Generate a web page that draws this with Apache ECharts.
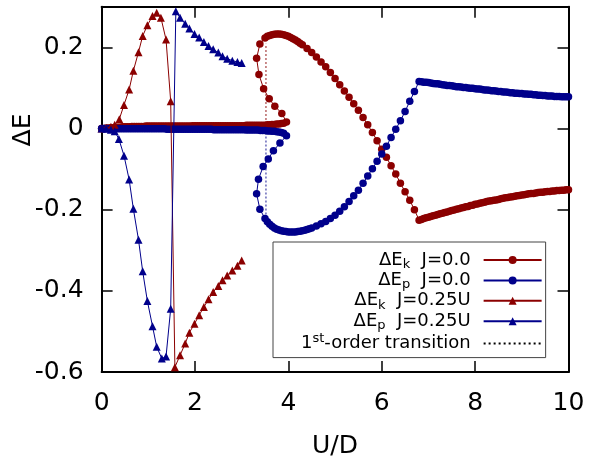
<!DOCTYPE html>
<html><head><meta charset="utf-8">
<script src="https://cdn.jsdelivr.net/npm/echarts@6/dist/echarts.min.js"></script>
<style>html,body{margin:0;padding:0;background:#fff}#c{width:590px;height:458px}</style>
</head><body><div id="c"></div>
<script>
// ---------- data (U/D, ΔE) ----------
// ΔE_k, J=0 : metallic branch, unstable back-turn, insulating branch
const ekJ0 = [
 [0.00,0.000],[0.05,0.000],[0.10,0.001],[0.15,0.001],[0.20,0.002],[0.25,0.002],[0.30,0.003],[0.35,0.003],[0.40,0.003],[0.45,0.004],
 [0.50,0.004],[0.55,0.004],[0.60,0.004],[0.65,0.005],[0.70,0.005],[0.75,0.005],[0.80,0.005],[0.85,0.005],[0.90,0.005],[0.95,0.006],
 [1.00,0.006],[1.05,0.006],[1.10,0.006],[1.15,0.006],[1.20,0.006],[1.25,0.006],[1.30,0.006],[1.35,0.006],[1.40,0.006],[1.45,0.006],
 [1.50,0.006],[1.55,0.006],[1.60,0.006],[1.65,0.006],[1.70,0.006],[1.75,0.006],[1.80,0.006],[1.85,0.006],[1.90,0.006],[1.95,0.007],
 [2.00,0.007],[2.05,0.007],[2.10,0.007],[2.15,0.007],[2.20,0.007],[2.25,0.007],[2.30,0.007],[2.35,0.007],[2.40,0.007],[2.45,0.007],
 [2.50,0.007],[2.55,0.007],[2.60,0.007],[2.65,0.007],[2.70,0.007],[2.75,0.007],[2.80,0.007],[2.85,0.007],[2.90,0.007],[2.95,0.007],
 [3.00,0.007],[3.05,0.007],[3.10,0.008],[3.15,0.008],[3.20,0.008],[3.25,0.008],[3.30,0.008],[3.35,0.008],[3.40,0.008],[3.45,0.008],
 [3.50,0.008],[3.55,0.009],[3.60,0.009],[3.65,0.010],[3.70,0.010],[3.75,0.011],[3.80,0.011],[3.85,0.012],[3.90,0.013],[3.96,0.016],
 [3.86,0.037],[3.71,0.055],[3.59,0.073],[3.47,0.098],[3.37,0.133],[3.32,0.173],[3.39,0.208],
 [3.50,0.223],[3.55,0.227],[3.60,0.229],[3.65,0.231],[3.70,0.232],[3.75,0.233],[3.80,0.233],[3.85,0.232],[3.90,0.231],[3.95,0.229],
 [4.00,0.227],[4.05,0.224],[4.10,0.221],[4.15,0.218],[4.20,0.214],[4.25,0.210],[4.30,0.206],
 [4.4,0.197],[4.5,0.187],[4.6,0.176],[4.7,0.164],[4.8,0.152],[4.9,0.138],[5.0,0.123],[5.1,0.108],[5.2,0.092],[5.3,0.077],
 [5.4,0.061],[5.5,0.045],[5.6,0.027],[5.7,0.009],[5.8,-0.010],[5.9,-0.030],[6.0,-0.051],[6.1,-0.071],[6.2,-0.092],[6.3,-0.112],
 [6.4,-0.135],[6.5,-0.156],[6.6,-0.177],[6.7,-0.200],
 [6.80,-0.226],[6.85,-0.224],[6.90,-0.222],[6.95,-0.220],[7.00,-0.219],[7.05,-0.217],[7.10,-0.215],[7.15,-0.214],[7.20,-0.212],[7.25,-0.210],
 [7.30,-0.209],[7.35,-0.207],[7.40,-0.206],[7.45,-0.204],[7.50,-0.202],[7.55,-0.201],[7.60,-0.199],[7.65,-0.198],[7.70,-0.196],[7.75,-0.195],
 [7.80,-0.193],[7.85,-0.192],[7.90,-0.190],[7.95,-0.189],[8.00,-0.187],[8.05,-0.186],[8.10,-0.184],[8.15,-0.183],[8.20,-0.182],[8.25,-0.180],
 [8.30,-0.179],[8.35,-0.178],[8.40,-0.177],[8.45,-0.176],[8.50,-0.175],[8.55,-0.173],[8.60,-0.172],[8.65,-0.171],[8.70,-0.170],[8.75,-0.169],
 [8.80,-0.168],[8.85,-0.167],[8.90,-0.166],[8.95,-0.165],[9.00,-0.164],[9.05,-0.163],[9.10,-0.162],[9.15,-0.161],[9.20,-0.160],[9.25,-0.160],
 [9.30,-0.159],[9.35,-0.158],[9.40,-0.157],[9.45,-0.157],[9.50,-0.156],[9.55,-0.155],[9.60,-0.155],[9.65,-0.154],[9.70,-0.154],[9.75,-0.153],
 [9.80,-0.153],[9.85,-0.152],[9.90,-0.152],[9.95,-0.151],[10.00,-0.151]
];
// ΔE_p, J=0
const epJ0 = [
 [0.00,0.000],[0.05,0.000],[0.10,0.000],[0.15,-0.001],[0.20,-0.001],[0.25,-0.001],[0.30,-0.001],[0.35,-0.001],[0.40,-0.001],[0.45,-0.001],
 [0.50,-0.001],[0.55,-0.001],[0.60,-0.001],[0.65,-0.001],[0.70,-0.001],[0.75,-0.001],[0.80,-0.001],[0.85,-0.001],[0.90,-0.001],[0.95,-0.001],
 [1.00,-0.001],[1.05,-0.001],[1.10,-0.001],[1.15,-0.001],[1.20,-0.001],[1.25,-0.001],[1.30,-0.001],[1.35,-0.001],[1.40,-0.002],[1.45,-0.002],
 [1.50,-0.002],[1.55,-0.002],[1.60,-0.002],[1.65,-0.002],[1.70,-0.002],[1.75,-0.002],[1.80,-0.002],[1.85,-0.002],[1.90,-0.002],[1.95,-0.002],
 [2.00,-0.002],[2.05,-0.002],[2.10,-0.002],[2.15,-0.002],[2.20,-0.002],[2.25,-0.002],[2.30,-0.002],[2.35,-0.002],[2.40,-0.003],[2.45,-0.003],
 [2.50,-0.003],[2.55,-0.003],[2.60,-0.003],[2.65,-0.003],[2.70,-0.003],[2.75,-0.003],[2.80,-0.003],[2.85,-0.003],[2.90,-0.003],[2.95,-0.003],
 [3.00,-0.003],[3.05,-0.003],[3.10,-0.004],[3.15,-0.004],[3.20,-0.004],[3.25,-0.004],[3.30,-0.004],[3.35,-0.004],[3.40,-0.005],[3.45,-0.005],
 [3.50,-0.005],[3.55,-0.006],[3.60,-0.006],[3.65,-0.007],[3.70,-0.007],[3.75,-0.008],[3.80,-0.009],[3.85,-0.010],[3.90,-0.012],[3.96,-0.018],
 [3.82,-0.036],[3.68,-0.055],[3.57,-0.075],[3.46,-0.094],[3.36,-0.125],[3.32,-0.161],[3.39,-0.199],
 [3.50,-0.222],[3.55,-0.230],[3.60,-0.236],[3.65,-0.241],[3.70,-0.245],[3.75,-0.248],[3.80,-0.250],[3.85,-0.252],[3.90,-0.253],[3.95,-0.254],
 [4.00,-0.255],[4.05,-0.255],[4.10,-0.255],[4.15,-0.255],[4.20,-0.254],[4.25,-0.253],[4.30,-0.252],[4.35,-0.251],[4.40,-0.249],[4.45,-0.247],
 [4.50,-0.245],[4.6,-0.240],[4.7,-0.235],[4.8,-0.229],[4.9,-0.222],[5.0,-0.214],[5.1,-0.204],[5.2,-0.193],[5.3,-0.180],[5.4,-0.166],
 [5.5,-0.152],[5.6,-0.135],[5.7,-0.117],[5.8,-0.099],[5.9,-0.081],[6.0,-0.063],[6.1,-0.044],[6.2,-0.022],[6.3,-0.002],[6.4,0.019],
 [6.5,0.042],[6.6,0.067],[6.7,0.091],
 [6.80,0.116],[6.85,0.115],[6.90,0.114],[6.95,0.114],[7.00,0.113],[7.05,0.112],[7.10,0.111],[7.15,0.110],[7.20,0.110],[7.25,0.109],
 [7.30,0.108],[7.35,0.107],[7.40,0.106],[7.45,0.106],[7.50,0.105],[7.55,0.104],[7.60,0.103],[7.65,0.103],[7.70,0.102],[7.75,0.101],
 [7.80,0.101],[7.85,0.100],[7.90,0.099],[7.95,0.099],[8.00,0.098],[8.05,0.097],[8.10,0.097],[8.15,0.096],[8.20,0.095],[8.25,0.095],
 [8.30,0.094],[8.35,0.093],[8.40,0.093],[8.45,0.092],[8.50,0.091],[8.55,0.091],[8.60,0.090],[8.65,0.090],[8.70,0.089],[8.75,0.088],
 [8.80,0.088],[8.85,0.087],[8.90,0.087],[8.95,0.086],[9.00,0.086],[9.05,0.085],[9.10,0.085],[9.15,0.084],[9.20,0.084],[9.25,0.083],
 [9.30,0.083],[9.35,0.082],[9.40,0.082],[9.45,0.081],[9.50,0.081],[9.55,0.080],[9.60,0.080],[9.65,0.080],[9.70,0.079],[9.75,0.079],
 [9.80,0.079],[9.85,0.078],[9.90,0.078],[9.95,0.078],[10.00,0.078]
];
// ΔE_k, J=0.25U
const ekJ025 = [
 [0.0,0.000],[0.1,0.001],[0.2,0.004],[0.28,0.009],[0.38,0.023],[0.48,0.058],[0.59,0.096],[0.68,0.142],[0.79,0.188],[0.88,0.228],
 [0.98,0.254],[1.09,0.277],[1.18,0.285],[1.27,0.273],[1.38,0.219],[1.48,0.067],
 [1.57,-0.588],[1.68,-0.559],[1.79,-0.530],[1.88,-0.503],[1.99,-0.481],[2.09,-0.460],[2.19,-0.440],[2.29,-0.421],[2.39,-0.403],
 [2.50,-0.388],[2.59,-0.374],[2.69,-0.362],[2.80,-0.350],[2.91,-0.338],[3.00,-0.325]
];
// ΔE_p, J=0.25U
const epJ025 = [
 [0.0,0.000],[0.1,-0.001],[0.2,-0.003],[0.28,-0.007],[0.37,-0.026],[0.48,-0.067],[0.59,-0.126],[0.68,-0.198],[0.79,-0.274],[0.88,-0.352],
 [0.98,-0.425],[1.09,-0.487],[1.18,-0.538],[1.29,-0.567],[1.38,-0.562],[1.48,-0.444],
 [1.59,0.289],[1.68,0.273],[1.79,0.258],[1.88,0.246],[1.99,0.233],[2.09,0.224],[2.19,0.213],[2.29,0.203],[2.39,0.195],
 [2.50,0.187],[2.59,0.178],[2.69,0.172],[2.80,0.167],[2.91,0.164],[3.00,0.161]
];
// first-order transition markers
const transK = [[3.52,0.011],[3.52,0.209]];
const transP = [[3.52,-0.010],[3.52,-0.215]];
const names = ['ΔEk J=0.0','ΔEp J=0.0','ΔEk J=0.25U','ΔEp J=0.25U','1st-order transition'];
const legendText = [
 '{m|ΔE}{s|k}{m|  J=0.0}',
 '{m|ΔE}{s|p}{m|  J=0.0}',
 '{m|ΔE}{s|k}{m|  J=0.25U}',
 '{m|ΔE}{s|p}{m|  J=0.25U}',
 '{m|1}{p|st}{m|-order transition}'
];
const xName = 'U/D';
const yName = 'ΔE';

// ---------- chart ----------
const RED = '#8b0000', BLUE = '#00008b', FONT = 'DejaVu Sans';
function ser(name, data, color, symbol, size, z) {
  return {name, type:'line', data, symbol, symbolSize:size, showSymbol:true, color,
    lineStyle:{color, width:1}, itemStyle:{color}, animation:false, z,
    emphasis:{disabled:true}, silent:true};
}
function dotted(name, data, color) {
  return {name, type:'line', data, symbol:'none', color, z:10, silent:true, animation:false,
    lineStyle:{color, width:1.5, type:[2,2], opacity:0.6}};
}
const axisBase = {type:'value', splitLine:{show:false},
  axisLine:{show:true, onZero:false, lineStyle:{color:'#000', width:2}},
  axisTick:{show:true, inside:true, length:11, lineStyle:{color:'#000', width:1.5}}};
const labelStyle = {fontSize:25, fontFamily:FONT, color:'#000'};

const chart = echarts.init(document.getElementById('c'), null, {renderer:'canvas'});
chart.setOption({
  animation:false,
  backgroundColor:'#fff',
  grid:{left:101.6, right:21.5, top:6.7, bottom:86, containLabel:false, outerBoundsMode:'none'},
  xAxis:[
    Object.assign({}, axisBase, {min:0, max:10, interval:2, position:'bottom',
      axisLabel:Object.assign({margin:19}, labelStyle),
      name:xName, nameLocation:'middle', nameGap:62, nameTextStyle:labelStyle}),
    Object.assign({}, axisBase, {min:0, max:10, interval:2, position:'top', axisLabel:{show:false}})
  ],
  yAxis:[
    Object.assign({}, axisBase, {min:-0.6, max:0.3, interval:0.2, position:'left',
      axisLabel:Object.assign({margin:18, showMaxLabel:false, padding:[3,0,0,0]}, labelStyle)}),
    Object.assign({}, axisBase, {min:-0.6, max:0.3, interval:0.2, position:'right', axisLabel:{show:false}})
  ],
  graphic:[{type:'text', x:23, y:130, rotation:Math.PI/2,
    style:{text:yName, font:'25px "DejaVu Sans"', fill:'#000', align:'center', verticalAlign:'middle'}}],
  legend:{
    orient:'vertical', left:273, top:242, align:'right',
    itemWidth:58, itemHeight:10, itemGap:0.4,
    padding:[9,3,5,28], borderColor:'#444', borderWidth:1, backgroundColor:'#fff',
    selectedMode:false,
    data:names.slice(),
    formatter:function(n){ return legendText[names.indexOf(n)]; },
    textStyle:{fontSize:18, fontFamily:FONT, color:'#000', padding:[0,8,0,0],
      rich:{
        m:{fontSize:18, fontFamily:FONT, color:'#000'},
        s:{fontSize:13, fontFamily:FONT, color:'#000', padding:[9,0,0,0]},
        p:{fontSize:13, fontFamily:FONT, color:'#000', padding:[0,0,9,0]}
      }}
  },
  series:[
    ser(names[0], ekJ0, RED, 'circle', 7.5, 2),
    ser(names[1], epJ0, BLUE, 'circle', 7.5, 3),
    ser(names[2], ekJ025, RED, 'triangle', 8, 4),
    ser(names[3], epJ025, BLUE, 'triangle', 8, 5),
    dotted('tk', transK, RED),
    dotted('tp', transP, BLUE),
    {name:names[4], type:'line', data:[], symbol:'none', color:'#000',
      itemStyle:{color:'#000', opacity:0}, lineStyle:{color:'#000', width:1, type:[2,3]}}
  ]
});
</script></body></html>
